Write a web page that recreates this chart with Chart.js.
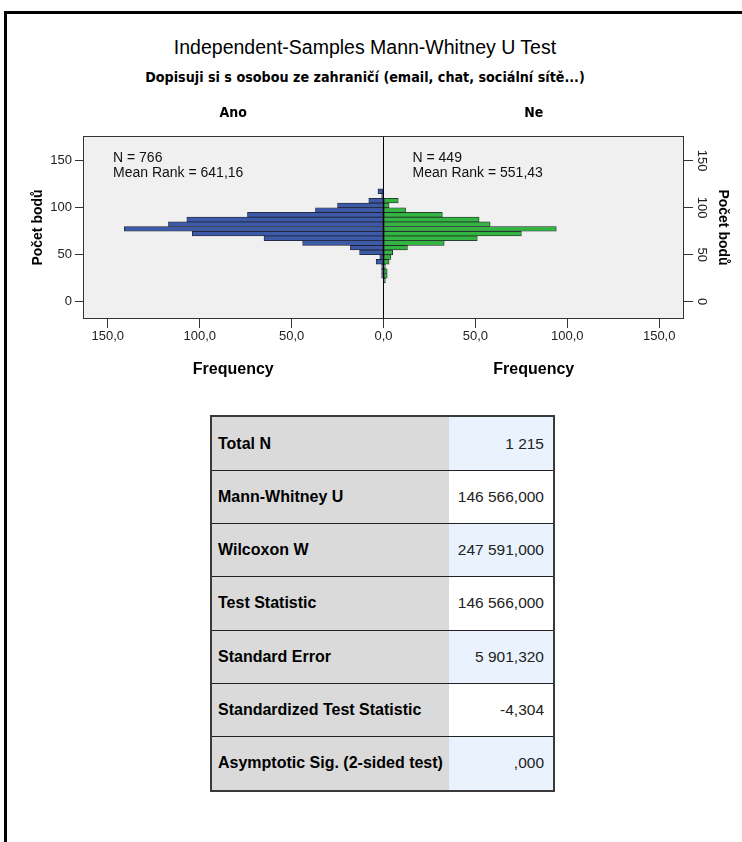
<!DOCTYPE html>
<html>
<head>
<meta charset="utf-8">
<script src="https://cdn.jsdelivr.net/npm/chart.js@4.4.1/dist/chart.umd.min.js"></script>
<style>
  html, body { margin: 0; padding: 0; background: #fff; width: 742px; height: 842px; overflow: hidden;
    font-family: "Liberation Sans", Arial, sans-serif; color: #000; }
  #frame { position: absolute; left: 4px; top: 11px; width: 800px; height: 900px; border: 3px solid #000; box-sizing: border-box; }
  #title { position: absolute; left: 0; width: 730px; top: 36px; line-height: 22px; text-align: center; font-size: 19.5px; }
  #subtitle { position: absolute; left: 0; width: 730px; top: 68px; line-height: 18px; text-align: center;
    font-family: "Liberation Sans Narrow", "DejaVu Sans Condensed", "Liberation Sans", sans-serif; font-weight: bold; font-size: 14.2px; }
  #chartBox { position: absolute; left: 0; top: 95px; width: 742px; height: 300px; }
  #stats { position: absolute; left: 210px; top: 415px; width: 345px; height: 377px; border-collapse: collapse;
    border: 2px solid #3a3a3a; table-layout: fixed; }
  #stats td { border-top: 1px solid #222; border-bottom: 1px solid #222; padding: 0; }
  #stats td.lab { width: 231px; background: #dadada; font-weight: bold; font-size: 16px; padding-left: 6px; }
  #stats td.val { text-align: right; font-size: 15.5px; padding-right: 9px; background: #fff; color: #222; }
  #stats tr:nth-child(odd) td.val { background: #eaf3fd; }
</style>
</head>
<body>
<div id="frame"></div>
<div id="title">Independent-Samples Mann-Whitney U Test</div>
<div id="subtitle">Dopisuji si s osobou ze zahraničí (email, chat, sociální sítě...)</div>
<div id="chartBox"><canvas id="hist" width="742" height="300"></canvas></div>
<table id="stats"></table>

<script>
// Histogram bins (lower bound of each 5-point band of "Počet bodů")
const binStarts = [20, 25, 30, 35, 40, 45, 50, 55, 60, 65, 70, 75, 80, 85, 90, 95, 100, 105, 110, 115];
const binWidth = 5;
// Frequencies per bin for each group
const anoCounts = [0, 1, 1, 1, 4, 2, 13, 18, 44, 65, 104, 141, 117, 107, 74, 37, 25, 8, 1, 3];
const neCounts  = [1, 2, 2, 1, 3, 4, 5, 13, 33, 51, 75, 94, 58, 52, 32, 12, 3, 8, 0, 0];

const groupNames = ['Ano', 'Ne'];
const groupN = ['766', '449'];
const groupMeanRank = ['641,16', '551,43'];

const xTickValues = [-150, -100, -50, 0, 50, 100, 150];
const xTickLabels = ['150,0', '100,0', '50,0', '0,0', '50,0', '100,0', '150,0'];
const yTickValues = [0, 50, 100, 150];
const yTickLabels = ['0', '50', '100', '150'];

const statLabels = ['Total N', 'Mann-Whitney U', 'Wilcoxon W', 'Test Statistic', 'Standard Error',
  'Standardized Test Statistic', 'Asymptotic Sig. (2-sided test)'];
const statValues = ['1 215', '146 566,000', '247 591,000', '146 566,000', '5 901,320', '-4,304', ',000'];

// Summary table
const table = document.getElementById('stats');
statLabels.forEach((lab, i) => {
  const tr = document.createElement('tr');
  const a = document.createElement('td'); a.className = 'lab'; a.textContent = lab;
  const b = document.createElement('td'); b.className = 'val'; b.textContent = statValues[i];
  tr.appendChild(a); tr.appendChild(b); table.appendChild(tr);
});

// Back-to-back histogram: "Ano" to the left (negative x), "Ne" to the right
const toPoints = (counts, sign) => binStarts
  .map((b, i) => ({ x: sign * counts[i], y: b + binWidth / 2 }))
  .filter(p => p.x !== 0);

const tickFont = { family: 'Liberation Sans', size: 13 };
const axisTitleFont = { family: 'Liberation Sans', size: 14, weight: 'bold' };

const plotFrame = {
  id: 'plotFrame',
  beforeDraw(chart) {
    const { ctx, chartArea: a } = chart;
    ctx.save();
    ctx.fillStyle = '#f0f0f0';
    ctx.fillRect(a.left, a.top, a.right - a.left, a.bottom - a.top);
    ctx.restore();
  },
  afterDraw(chart) {
    const { ctx, chartArea: a } = chart;
    const xs = chart.scales.x;
    const x0 = xs.getPixelForValue(0);
    const halves = [(a.left + x0) / 2, (x0 + a.right) / 2];
    const starts = [a.left + 30, x0 + 29];
    ctx.save();
    ctx.strokeStyle = '#333';
    ctx.lineWidth = 1;
    ctx.strokeRect(a.left + 0.5, a.top + 0.5, a.right - a.left - 1, a.bottom - a.top - 1);

    ctx.fillStyle = '#000';
    ctx.textAlign = 'center';
    ctx.textBaseline = 'middle';
    ctx.font = 'bold 14px "Liberation Sans Narrow", "DejaVu Sans Condensed", "Liberation Sans", sans-serif';
    halves.forEach((cx, i) => ctx.fillText(groupNames[i], cx, a.top - 23));

    ctx.font = 'bold 16px "Liberation Sans", sans-serif';
    halves.forEach(cx => ctx.fillText('Frequency', cx, a.bottom + 51));

    ctx.textAlign = 'left';
    ctx.textBaseline = 'alphabetic';
    ctx.font = '14px "Liberation Sans", sans-serif';
    ctx.fillStyle = '#111';
    starts.forEach((sx, i) => {
      ctx.fillText('N = ' + groupN[i], sx, a.top + 26);
      ctx.fillText('Mean Rank = ' + groupMeanRank[i], sx, a.top + 40.5);
    });
    ctx.restore();
  }
};

new Chart(document.getElementById('hist'), {
  type: 'bar',
  data: {
    datasets: [
      { label: groupNames[0], data: toPoints(anoCounts, -1), backgroundColor: '#3c5aa8' },
      { label: groupNames[1], data: toPoints(neCounts, 1), backgroundColor: '#34b440' }
    ]
  },
  options: {
    indexAxis: 'y',
    responsive: false,
    animation: false,
    devicePixelRatio: 1,
    layout: { padding: { top: 41, left: 0, right: 0, bottom: 0 } },
    datasets: {
      bar: {
        grouped: false,
        barPercentage: 1,
        categoryPercentage: 1,
        borderColor: '#1e1e28',
        borderWidth: 0.75,
        borderSkipped: false
      }
    },
    plugins: { legend: { display: false }, tooltip: { enabled: false }, title: { display: false } },
    scales: {
      x: {
        type: 'linear',
        min: -163.5, max: 163.5,
        offset: false,
        afterBuildTicks: s => { s.ticks = xTickValues.map(v => ({ value: v })); },
        afterFit: s => { s.height = 76; },
        border: { display: false },
        grid: {
          offset: false,
          drawOnChartArea: true,
          color: c => (c.tick && c.tick.value === 0) ? '#000' : 'rgba(0,0,0,0)',
          lineWidth: 1,
          drawTicks: true,
          tickLength: 9,
          tickColor: '#333',
          tickWidth: 1
        },
        ticks: {
          autoSkip: false, maxRotation: 0, minRotation: 0, padding: 1,
          font: tickFont, color: '#222',
          callback: (v, i) => xTickLabels[i]
        }
      },
      y: {
        type: 'linear',
        position: 'left',
        min: -18.4, max: 176.3,
        offset: false,
        afterBuildTicks: s => { s.ticks = yTickValues.map(v => ({ value: v })); },
        afterFit: s => { s.width = 83; },
        border: { display: false },
        grid: { offset: false, drawOnChartArea: false, drawTicks: true, tickLength: 8, tickColor: '#333', color: '#333' },
        ticks: { autoSkip: false, padding: 3, font: tickFont, color: '#222', callback: (v, i) => yTickLabels[i] },
        title: { display: true, text: 'Počet bodů', font: axisTitleFont, color: '#000', padding: { top: 30, bottom: 0 } }
      },
      y2: {
        type: 'linear',
        position: 'right',
        min: -18.4, max: 176.3,
        offset: false,
        afterBuildTicks: s => { s.ticks = yTickValues.map(v => ({ value: v })); },
        afterFit: s => { s.width = 58; },
        border: { display: false },
        grid: { offset: false, drawOnChartArea: false, drawTicks: true, tickLength: 9, tickColor: '#333', color: '#333' },
        ticks: {
          autoSkip: false, padding: -2, crossAlign: 'center',
          minRotation: -90, maxRotation: -90,
          font: tickFont, color: '#222', callback: (v, i) => yTickLabels[i]
        },
        title: { display: true, text: 'Počet bodů', font: axisTitleFont, color: '#000', padding: { top: 11, bottom: 0 } }
      }
    }
  },
  plugins: [plotFrame]
});
</script>
</body>
</html>
